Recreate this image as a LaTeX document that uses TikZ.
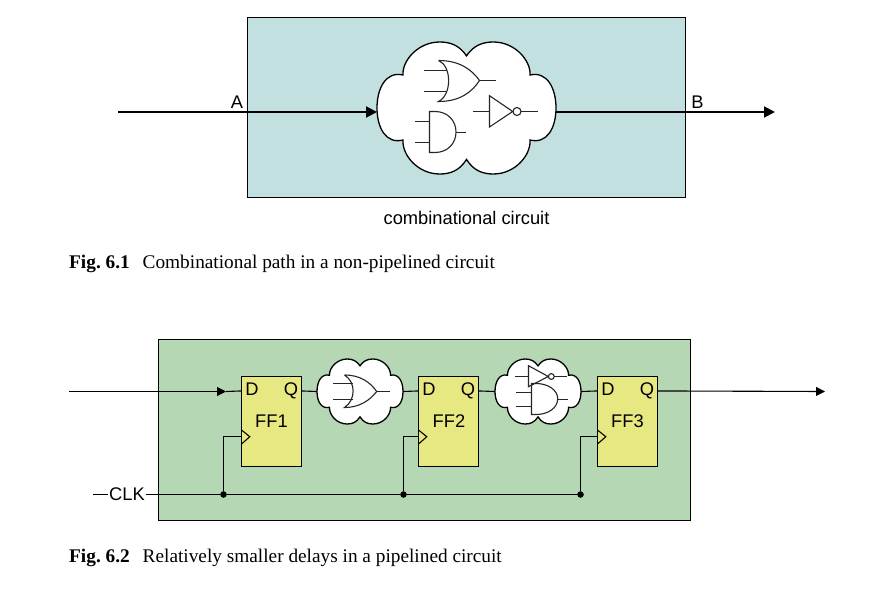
\documentclass[tikz,border=0pt]{standalone}
\usepackage{fontspec}
\setmainfont{Liberation Sans}
\newfontfamily\capfont{Liberation Serif}
\usetikzlibrary{arrows.meta,calc}
\definecolor{bluepanel}{HTML}{C2E0E0}
\definecolor{greenpanel}{HTML}{B6D7B3}
\definecolor{ffyellow}{HTML}{E8E882}
\tikzset{
  panel/.style={draw=black,line width=0.9pt,inner sep=0pt,rectangle},
  ffbox/.style={draw=black,line width=1.1pt,fill=ffyellow,inner sep=0pt,rectangle,minimum width=60pt,minimum height=90pt},
  wire/.style={line width=1.1pt,line cap=butt},
  thick wire/.style={line width=2pt},
  gate/.style={line width=1.1pt,draw=black!85},
  cloudline/.style={line width=1.3pt,draw=black,fill=white},
  lbl/.style={font=\fontsize{18.3}{20}\selectfont,inner sep=1pt},
  ffl/.style={font=\fontsize{18.3}{20}\selectfont,inner sep=0pt,anchor=base},
  bigtip/.style={-{Triangle[length=11pt,width=11pt]}},
  smalltip/.style={-{Triangle[length=9pt,width=9pt]}},
  dot/.style={circle,fill=black,inner sep=0pt,minimum size=6.6pt},
  caption/.style={font=\capfont\frenchspacing\fontsize{19.3}{21}\selectfont,inner sep=0pt,anchor=base west}
}
\newcommand{\cloudat}[5]{% name, cx, cy, hw, hh
  \node[inner sep=0pt,rectangle,minimum width=#4*2pt,minimum height=#5*2pt] (#1) at (#2,#3) {};
  \begin{scope}[shift={(#2,#3)},xscale=#4,yscale=#5]
    \draw[cloudline] (0,-.79)
      .. controls (-.08,-.95) and (-.18,-1) .. (-.3,-1)
      .. controls (-.54,-1) and (-.72,-.72) .. (-.71,-.5)
      .. controls (-.9,-.56) and (-1,-.3) .. (-1,0)
      .. controls (-1,.3) and (-.9,.55) .. (-.71,.485)
      .. controls (-.72,.72) and (-.54,1) .. (-.3,1)
      .. controls (-.18,1) and (-.08,.95) .. (0,.78)
      .. controls (.08,.95) and (.18,1) .. (.3,1)
      .. controls (.54,1) and (.72,.72) .. (.71,.485)
      .. controls (.9,.55) and (1,.3) .. (1,0)
      .. controls (1,-.3) and (.9,-.56) .. (.71,-.5)
      .. controls (.72,-.72) and (.54,-1) .. (.3,-1)
      .. controls (.18,-1) and (.08,-.95) .. (0,-.79) -- cycle;
  \end{scope}}
\begin{document}
\begin{tikzpicture}[x=1pt,y=-1pt]
\useasboundingbox (0,0) rectangle (890,588);
% ---- Fig 6.1
\node[panel,fill=bluepanel,minimum width=438.5pt,minimum height=180pt] (boxA) at (466.25,107) {};
\cloudat{cloudA}{466.5}{108}{89.5}{66}
\coordinate (inA) at (118,112);
\coordinate (tipA) at (377,112);
\coordinate (outAs) at (556,112);
\coordinate (outA) at (775,112);
\draw[thick wire,bigtip] (inA) -- (tipA);
\draw[thick wire,bigtip] (outAs) -- (outA);
\node[lbl,anchor=base] (labA) at (237,109) {A};
\node[lbl,anchor=base] (labB) at (697.5,109) {B};
\node[lbl,anchor=base] (labC) at (466.5,224) {combinational circuit};
% OR
\draw[gate] (438.5,60.5) .. controls (460,60.5) and (472,70) .. (479.5,80.5)
  .. controls (472,92) and (460,101.5) .. (438.5,101.5)
  .. controls (452,95) and (452,66) .. (438.5,60.5);
\draw[gate] (424,70.5) -- (447,70.5) (424,91.5) -- (447,91.5) (479.5,80.5) -- (495.7,80.5);
% AND
\draw[gate] (435,111.5) -- (429.5,111.5) -- (429.5,152.5) -- (435,152.5)
  .. controls (448,152.5) and (456,143) .. (456,132)
  .. controls (456,121) and (448,111.5) .. (435,111.5);
\draw[gate] (415,121.5) -- (429.5,121.5) (415,142.5) -- (429.5,142.5) (456,132.5) -- (465.7,132.5);
% NOT
\draw[gate] (489.5,95.7) -- (512.7,111.5) -- (489.5,127) -- cycle;
\draw[gate] (517,111.5) circle (4);
\draw[gate] (473,111.5) -- (489.5,111.5) (521,111.5) -- (538,111.5);
\node[caption] (cap1a) at (69,268.3) {\bfseries Fig. 6.1};
\node[caption] (cap1b) at (142.5,268.3) {Combinational path in a non-pipelined circuit};
% ---- Fig 6.2
\node[panel,fill=greenpanel,minimum width=532pt,minimum height=181pt] (boxB) at (424.5,429.5) {};
\node[ffbox] (ff1) at (271.5,421.5) {};
\node[ffbox] (ff2) at (448.5,421.5) {};
\node[ffbox] (ff3) at (627.5,421.5) {};
\cloudat{cloudB}{360}{391.5}{43}{32.5}
\cloudat{cloudC}{538}{391.5}{43}{32.5}
\coordinate (inB) at (69,391.5);
\coordinate (tipB) at (226,391.5);
\coordinate (outB) at (825,391.5);
\coordinate (d1) at ([yshift=-15pt]ff1.north west);
\coordinate (q1) at ([yshift=-15pt]ff1.north east);
\coordinate (d2) at ([yshift=-15pt]ff2.north west);
\coordinate (q2) at ([yshift=-15pt]ff2.north east);
\coordinate (d3) at ([yshift=-15pt]ff3.north west);
\coordinate (q3) at ([yshift=-15pt]ff3.north east);
\draw[wire,smalltip] (inB) -- (tipB);
\draw[wire] (tipB) -- (d1);
\draw[wire] (q1) -- (cloudB.west);
\draw[wire] (cloudB.east) -- (d2);
\draw[wire] (q2) -- (cloudC.west);
\draw[wire] (cloudC.east) -- (d3);
\draw[wire,smalltip] (q3) -- (outB);
% FF texts
\foreach \n/\x/\t in {ff1/271.5/FF1,ff2/449/FF2,ff3/627.5/FF3}{\node[ffl] (l\n) at (\x,427) {\t};}
\foreach \n/\x in {1/241.5,2/418.5,3/597.5}{
  \node[ffl] (dl\n) at (\x+10.5,395.5) {D};
  \node[ffl] (ql\n) at (\x+49.5,395.5) {Q};
  \draw[wire] (\x,430) -- (\x+8.3,436.7) -- (\x,444);
}
% Clock
\node[lbl,inner sep=1pt] (clk) at (127,494.5) {CLK};
\coordinate (clkin) at (93,494.5);
\node[dot] (j1) at (223.5,494.5) {};
\node[dot] (j2) at (403.5,494.5) {};
\node[dot] (j3) at (580.5,494.5) {};
\draw[wire] (clkin) -- (clk.west);
\draw[wire] (clk.east) -- (j1) -- (j2) -- (j3);
\coordinate (c1) at ([yshift=-15pt]ff1.west);
\coordinate (c2) at ([yshift=-15pt]ff2.west);
\coordinate (c3) at ([yshift=-15pt]ff3.west);
\draw[wire] (j1) |- (c1);
\draw[wire] (j2) |- (c2);
\draw[wire] (j3) |- (c3);
% small OR
\draw[gate] (344.5,375) .. controls (360,375) and (370,382) .. (376.7,391.5)
  .. controls (370,400) and (360,407.5) .. (344.5,407.5)
  .. controls (356,400) and (356,382) .. (344.5,375);
\draw[gate] (333.3,383.5) -- (353.3,383.5) (333.3,399.5) -- (353.3,399.5) (376.7,391.5) -- (390,391.5);
% small NOT
\draw[gate] (528.5,365.7) -- (548.3,376.5) -- (528.5,386.7) -- cycle;
\draw[gate] (551.3,376.5) circle (2.9);
\draw[gate] (515,376.5) -- (528.5,376.5) (554.2,376.5) -- (567,376.5);
% small AND
\draw[gate] (536,383.5) -- (531.5,383.5) -- (531.5,414.5) -- (536,414.5)
  .. controls (548,414.5) and (557.7,408) .. (557.7,398.7)
  .. controls (557.7,390) and (548,383.5) .. (536,383.5);
\draw[gate] (516,392.5) -- (531.5,392.5) (516,406.5) -- (531.5,406.5) (557.7,399.5) -- (567.7,399.5);
\node[caption] (cap2a) at (69,562) {\bfseries Fig. 6.2};
\node[caption] (cap2b) at (142.5,562) {Relatively smaller delays in a pipelined circuit};
\end{tikzpicture}
\end{document}
